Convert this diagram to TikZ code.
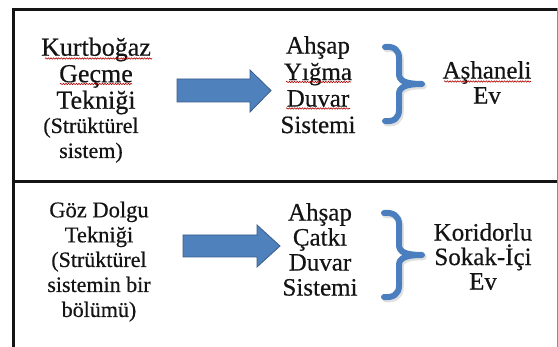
\documentclass[tikz,border=0pt]{standalone}
\usepackage{fontspec}
\setmainfont{Liberation Serif}
\newfontfamily\labelface[FakeBold=0.5]{Liberation Serif}
\usetikzlibrary{decorations.pathmorphing}

\definecolor{arrowblue}{RGB}{79,129,189}
\definecolor{arrowedge}{RGB}{56,93,138}
\definecolor{braceblue}{RGB}{74,126,191}
\definecolor{inkblack}{RGB}{20,20,20}

\tikzset{
  frame/.style={draw=inkblack, line width=3pt},
  sideline/.style={draw=black!45, line width=1.2pt},
  blockarrow/.style={fill=arrowblue, draw=arrowedge, line width=0.8pt, line join=miter},
  bracket/.style={draw=braceblue, line width=6pt, line cap=round, line join=round},
  bracketshade/.style={draw=black!12, line width=6.5pt, line cap=round, line join=round},
  spell/.style={draw=red!70!black, line width=0.6pt, decorate,
    decoration={snake, amplitude=0.7pt, segment length=2.6pt}},
  txt/.style={align=center, anchor=north, inner sep=0pt, text=inkblack},
  bigtxt/.style={txt, font=\labelface\fontsize{25}{26.5}\selectfont},
  midtxt/.style={txt, font=\labelface\fontsize{22.5}{25}\selectfont},
  notetxt/.style={txt, font=\labelface\fontsize{22}{25}\selectfont}
}

\begin{document}
\begin{tikzpicture}[x=1pt, y=-1pt]
\useasboundingbox (0,0) rectangle (558,347);

% frame of the two rows
\draw[sideline] (557.3,8) -- (557.3,347);
\draw[frame] (12,9.5) -- (557,9.5);
\draw[frame] (13.5,8) -- (13.5,347);
\draw[frame] (12,182) -- (557,182);

% upper row
\node[bigtxt, font=\labelface\fontsize{26}{26.5}\selectfont] (kurt) at (96,37.5) {Kurtboğaz\\Geçme\\Tekniği};
\node[notetxt] (kurtnote) at (91,117.5) {(Strüktürel\\sistem)};
\node[bigtxt] (yigma) at (318,36) {Ahşap\\Yığma\\Duvar\\Sistemi};
\node[bigtxt, font=\labelface\fontsize{25}{25}\selectfont] (ashane) at (487,61) {Aşhaneli\\Ev};

\path[blockarrow] (177,79) -- (250,79) -- (250,70) -- (271,90.5) -- (250,112) -- (250,102) -- (177,102) -- cycle;

\draw[bracketshade, xshift=1.5pt, yshift=-2pt]
  (385,47) .. controls (394,46) and (399,50) .. (399,58) -- (399,74)
  .. controls (399,81) and (406,84) .. (422,84)
  .. controls (406,84) and (399,87) .. (399,94) -- (399,110)
  .. controls (399,118) and (394,122) .. (385,121);
\draw[bracket]
  (385,47) .. controls (394,46) and (399,50) .. (399,58) -- (399,74)
  .. controls (399,81) and (406,84) .. (422,84)
  .. controls (406,84) and (399,87) .. (399,94) -- (399,110)
  .. controls (399,118) and (394,122) .. (385,121);

% proofing marks under the flagged words
\draw[spell] (45,58.5) -- (152,58.5);
\draw[spell] (60,84) -- (132,84);
\draw[spell] (286,82) -- (351,82);
\draw[spell] (286,108.5) -- (350,108.5);
\draw[spell] (444,81.5) -- (531,81.5);

% lower row
\node[midtxt] (goz) at (99,201.5) {Göz Dolgu\\Tekniği};
\node[notetxt] (goznote) at (99,251.5) {(Strüktürel\\sistemin bir\\bölümü)};
\node[bigtxt, font=\labelface\fontsize{25}{25}\selectfont] (catki) at (320,203) {Ahşap\\Çatkı\\Duvar\\Sistemi};
\node[bigtxt, font=\labelface\fontsize{25}{24.5}\selectfont] (kor) at (483,223) {Koridorlu\\Sokak-İçi\\Ev};

\path[blockarrow] (183,235) -- (257,235) -- (257,225) -- (280,246) -- (257,267) -- (257,257) -- (183,257) -- cycle;

\draw[bracketshade, xshift=1.5pt, yshift=-2pt]
  (384,213) .. controls (393,212) and (399,216) .. (399,224) -- (399,245)
  .. controls (399,252) and (406,255) .. (422,255)
  .. controls (406,255) and (399,258) .. (399,265) -- (399,286)
  .. controls (399,294) and (393,298) .. (384,297);
\draw[bracket]
  (384,213) .. controls (393,212) and (399,216) .. (399,224) -- (399,245)
  .. controls (399,252) and (406,255) .. (422,255)
  .. controls (406,255) and (399,258) .. (399,265) -- (399,286)
  .. controls (399,294) and (393,298) .. (384,297);
\end{tikzpicture}
\end{document}
